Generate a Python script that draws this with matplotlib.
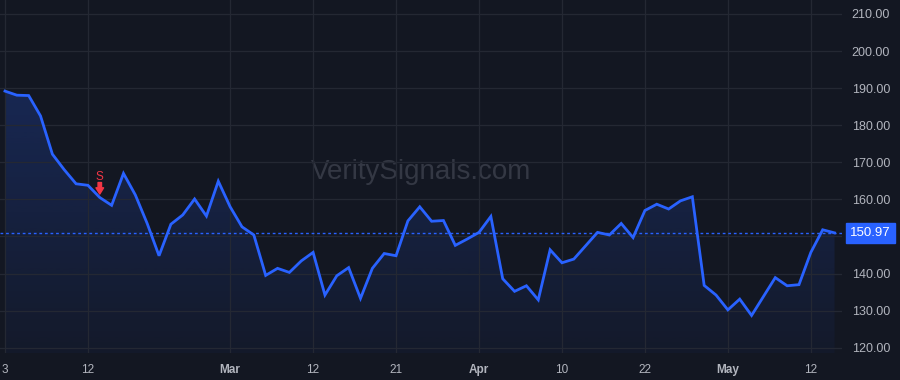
"""
VeritySignals 風のダークテーマ価格チャート（売りシグナル付き）。
"""

import matplotlib
matplotlib.use("Agg")
import matplotlib.pyplot as plt
import numpy as np
from matplotlib.colors import to_rgb
from matplotlib.patches import Polygon
from matplotlib.transforms import Bbox, TransformedBbox

# 終値
prices = [
    189.2, 188.1, 188.0, 182.5, 172.2, 168.0, 164.2, 163.8, 160.5, 158.4,
    167.0, 161.2, 153.5, 144.8, 153.3, 155.8, 160.1, 155.5, 164.9, 158.0,
    152.6, 150.4, 139.5, 141.4, 140.3, 143.4, 145.7, 134.2, 139.4, 141.6,
    133.3, 141.4, 145.4, 144.8, 154.2, 158.0, 154.1, 154.3, 147.6, 149.3,
    151.1, 155.4, 138.6, 135.2, 136.7, 132.9, 146.4, 142.9, 143.9, 147.5,
    151.1, 150.4, 153.5, 149.7, 157.0, 158.7, 157.4, 159.6, 160.7, 136.8,
    134.2, 130.2, 133.1, 128.7, 133.8, 138.9, 136.7, 137.0, 145.7, 151.8,
    150.97,
]
last_price = 150.97

# x軸ラベル（インデックス位置）
tick_pos = [0, 7, 19, 26, 33, 40, 47, 54, 61, 68]
tick_labels = ["3", "12", "Mar", "12", "21", "Apr", "10", "22", "May", "12"]
month_labels = {"Mar", "Apr", "May"}

y_ticks = [120, 130, 140, 150, 160, 170, 180, 190, 200, 210]

# 売りシグナル
sell_idx = 8

BG = "#131722"
GRID = "#242833"
LINE = "#2962ff"
TEXT = "#b2b5be"
RED = "#f23645"
FONT = "Liberation Sans"

x = np.arange(len(prices))
y = np.array(prices)

fig = plt.figure(figsize=(9, 3.8), dpi=100, facecolor=BG)
ax = fig.add_axes([0, 27 / 380, 842 / 900, 353 / 380])
ax.set_facecolor(BG)

# グリッド
ax.set_xticks(tick_pos)
ax.set_yticks(y_ticks)
ax.grid(True, color=GRID, linewidth=0.9)
for s in ax.spines.values():
    s.set_visible(False)
ax.tick_params(length=0)

# グラデーション塗り
ymin_ax = 118.57
r, g, b = to_rgb(LINE)
grad = np.zeros((256, 1, 4))
grad[:, 0, 0], grad[:, 0, 1], grad[:, 0, 2] = r, g, b
grad[:, 0, 3] = np.linspace(0.04, 0.22, 256)
img = ax.imshow(grad, aspect="auto", origin="lower",
                extent=[x[0], x[-1], ymin_ax, y.max()], zorder=1)
poly = Polygon(np.column_stack([np.r_[x[0], x, x[-1]], np.r_[ymin_ax, y, ymin_ax]]),
               closed=True, facecolor="none", edgecolor="none")
ax.add_patch(poly)
img.set_clip_path(poly)
ax.set_xlim(-0.42, 70.63)
ax.set_ylim(118.57, 213.77)

ax.plot(x, y, color=LINE, linewidth=2, zorder=3, solid_joinstyle="miter")

# 現在値ライン
ax.axhline(last_price, color=LINE, linewidth=1, linestyle=(0, (2, 2)), zorder=2)

# ウォーターマーク
ax.text(0.5, 0.513, "VeritySignals.com", transform=ax.transAxes, ha="center", va="center",
        fontsize=20, color="#343844", family=FONT, zorder=0)

# 売りシグナル
ax.annotate("", xy=(sell_idx, prices[sell_idx]), xytext=(0, 15), textcoords="offset pixels",
            arrowprops=dict(arrowstyle="simple,head_width=0.55,head_length=0.45,tail_width=0.25",
                            color=RED, shrinkA=0, shrinkB=2.5), zorder=4)
ax.annotate("S", xy=(sell_idx, prices[sell_idx]), xytext=(0, 21), textcoords="offset pixels",
            ha="center", va="center", color=RED, fontsize=8.5, family=FONT, zorder=4)

# 軸ラベル
ax.set_xticklabels(tick_labels)
for t in ax.get_xticklabels():
    t.set_color(TEXT)
    t.set_fontsize(8.5)
    t.set_family(FONT)
    if t.get_text() in month_labels:
        t.set_fontweight("bold")
ax.tick_params(axis="x", pad=8)

# 150.00 は現在値ラベルに隠れるので空にする
ax.yaxis.tick_right()
ax.set_yticklabels(["" if v == 150 else f"{v:.2f}" for v in y_ticks])
clip = TransformedBbox(Bbox([[842 / 900, 27 / 380], [1, 1]]), fig.transFigure)
for t in ax.get_yticklabels():
    t.set_color(TEXT)
    t.set_fontsize(9)
    t.set_family(FONT)
    t.set_clip_box(clip)
    t.set_clip_on(True)
ax.tick_params(axis="y", pad=7)

# 現在値ラベル
ax.annotate(f"{last_price:.2f}", xy=(1, last_price), xycoords=("axes fraction", "data"),
            xytext=(8, 0), textcoords="offset pixels", ha="left", va="center",
            color="white", fontsize=9.5, family=FONT,
            bbox=dict(boxstyle="square,pad=0.33", facecolor=LINE, edgecolor=LINE),
            annotation_clip=False, zorder=5)

fig.savefig("out.png", dpi=100, facecolor=BG)
